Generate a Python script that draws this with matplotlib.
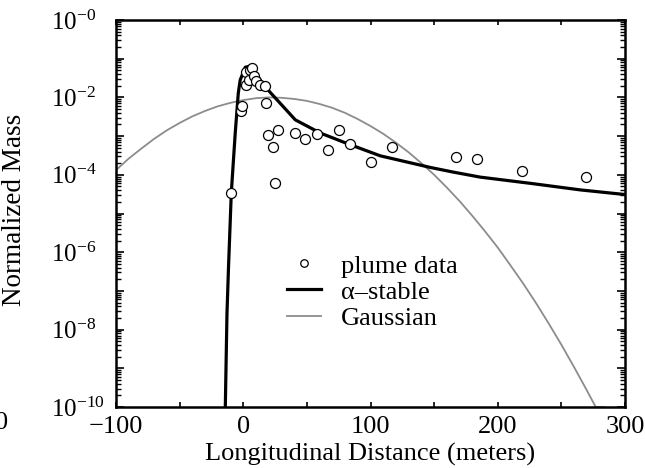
import numpy as np
import matplotlib
matplotlib.use("Agg")
import matplotlib.pyplot as plt
from matplotlib.ticker import FixedLocator, NullFormatter

plt.rcParams['font.family'] = ['Liberation Serif', 'DejaVu Serif']
plt.rcParams['mathtext.fontset'] = 'custom'
plt.rcParams['mathtext.rm'] = 'Liberation Serif'
plt.rcParams['mathtext.it'] = 'Liberation Serif:italic'

# plume data (distance in m, normalized mass)
plume_x = [-9.4, -1.8, -0.6, 2.1, 2.4, 4.2, 5.5, 7.1, 8.6, 10.2, 13.4, 16.7,
           18.1, 19.3, 27.5, 23.0, 24.6, 40.3, 48.7, 57.6, 66.3, 75.2, 83.6,
           100.6, 117.1, 166.9, 183.7, 219.1, 269.1]
plume_y = [3.4e-5, 4.5e-3, 6.0e-3, 2.1e-2, 4.6e-2, 2.8e-2, 5.1e-2, 5.9e-2, 3.6e-2,
           2.6e-2, 2.1e-2, 2.0e-2, 7.1e-3, 1.05e-3, 1.4e-3, 5.1e-4, 6.0e-5, 1.2e-3,
           8.5e-4, 1.1e-3, 4.4e-4, 1.47e-3, 6.1e-4, 2.2e-4, 5.2e-4, 2.8e-4,
           2.5e-4, 1.28e-4, 8.9e-5]

# alpha-stable fit (log10 of mass)
stable_x = [-14.1, -12.8, -11.6, -9.4, -6.3, -3.9, -2.4, 1.6, 4.5, 10.0, 17.3,
            40.9, 60.5, 81.5, 107.7, 130.0, 147.0, 165.0, 186.2, 225.5, 264.8, 300.0]
stable_log = [-10.0, -7.6, -6.4, -4.47, -2.92, -1.89, -1.55, -1.22, -1.2, -1.4,
              -1.73, -2.58, -2.92, -3.19, -3.51, -3.68, -3.81, -3.93, -4.06, -4.22,
              -4.39, -4.51]

# Gaussian fit (log10 of mass)
gauss_x = [-100, -90, -80, -70, -60, -50, -40, -30, -20, -10, 0, 10, 20, 30,
           40, 50, 60, 70, 80, 90, 100, 110, 120, 130, 140, 150, 160, 170, 180,
           190, 200, 210, 220, 230, 240, 250, 260, 270, 277, 284]
gauss_log = [-3.88, -3.58, -3.32, -3.07, -2.85, -2.66, -2.49, -2.35, -2.23, -2.14,
             -2.07, -2.02, -2.00, -2.01, -2.04, -2.09, -2.17, -2.27, -2.40, -2.56,
             -2.74, -2.94, -3.17, -3.42, -3.70, -4.00, -4.33, -4.68, -5.06, -5.46,
             -5.88, -6.34, -6.81, -7.31, -7.84, -8.39, -8.97, -9.57, -10.0, -10.0]

fig = plt.figure(figsize=(6.45, 4.68), dpi=100)
ax = fig.add_axes([116/645, 1 - 407/468, 509/645, 387/468])

ax.plot(gauss_x, 10.0**np.array(gauss_log), color='#8c8c8c', lw=1.3,
        label='Gaussian', zorder=2)
ax.plot(stable_x, 10.0**np.array(stable_log), color='black', lw=2.3,
        label='\u03b1\u2013stable', zorder=3)
ax.plot(plume_x, plume_y, 'o', mfc='white', mec='black', mew=0.9, ms=7.2,
        label='plume data', zorder=4)

ax.set_yscale('log')
ax.set_xlim(-100, 300)
ax.set_ylim(1e-10, 1)

# y ticks: major every decade, labels on even decades
decades = list(range(-10, 1))
ax.yaxis.set_major_locator(FixedLocator([10.0**d for d in decades]))
ylabels = [r'$10^{-%d}$' % (-d) if d % 2 == 0 else '' for d in decades]
ax.set_yticklabels(ylabels)
ax.yaxis.set_minor_locator(FixedLocator([m * 10.0**d for d in decades[:-1] for m in range(2, 10)]))
ax.yaxis.set_minor_formatter(NullFormatter())

ax.xaxis.set_major_locator(FixedLocator(list(range(-100, 301, 50))))
ax.set_xticklabels(['\u2212100', '', '0', '', '100', '', '200', '', '300'])

ax.tick_params(which='both', direction='in', top=True, right=True, width=1.2)
ax.tick_params(axis='y', which='major', length=6, labelsize=18, pad=47)
ax.tick_params(axis='y', which='minor', length=3.5, width=1.0)
ax.tick_params(axis='x', which='major', length=3.5, labelsize=19, pad=6.5)
for lbl in ax.get_yticklabels():
    lbl.set_horizontalalignment('left')

for s in ax.spines.values():
    s.set_linewidth(1.8)

ax.set_xlabel('Longitudinal Distance (meters)', fontsize=19)
ax.set_ylabel('Normalized Mass', fontsize=19.5)
ax.xaxis.set_label_coords(0.5, -0.094)
ax.yaxis.set_label_coords(-0.175, 0.51)

h, l = ax.get_legend_handles_labels()
order = [2, 1, 0]
leg = ax.legend([h[i] for i in order], [l[i] for i in order], loc='upper left',
                bbox_to_anchor=(0.335, 0.395), frameon=False, fontsize=19,
                handlelength=1.3, handletextpad=0.75, labelspacing=0.1,
                borderpad=0, borderaxespad=0, markerscale=0.75, numpoints=1)

fig.text(8/645, 1 - 423/468, '0', fontsize=19, ha='right', va='center')

fig.savefig('out.png', dpi=100)
